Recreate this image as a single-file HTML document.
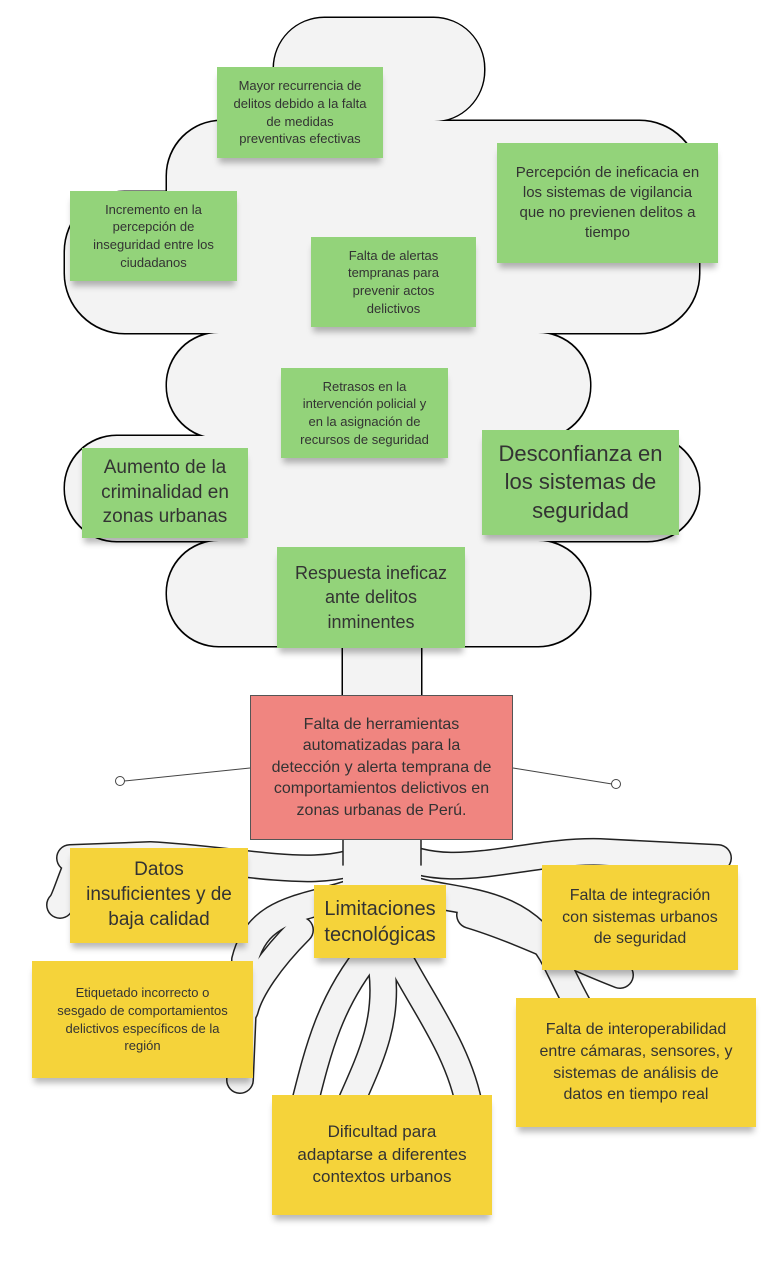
<!DOCTYPE html>
<html><head><meta charset="utf-8"><style>
body{margin:0;width:783px;height:1276px;background:#fff;position:relative;overflow:hidden;font-family:"Liberation Sans","DejaVu Sans",sans-serif;}
svg{position:absolute;left:0;top:0}
.n{position:absolute;display:flex;align-items:center;justify-content:center;text-align:center;color:#333;box-shadow:0 7px 6px -2px rgba(0,0,0,0.28);box-sizing:border-box;padding:2px;line-height:1.35;white-space:nowrap}
.g{background:#93d37a}
.y{background:#f5d33a}
</style></head><body>
<svg width="783" height="1276">
<g fill="#000">
<rect x="272.5" y="16.5" width="213" height="106" rx="52"/>
<rect x="165.5" y="119.5" width="433" height="215" rx="56"/>
<rect x="63.5" y="190.5" width="303" height="144" rx="61"/>
<rect x="398.5" y="119.5" width="302" height="215" rx="61"/>
<rect x="165.5" y="331.5" width="426" height="108" rx="53"/>
<rect x="63.5" y="434.5" width="637" height="108" rx="53"/>
<rect x="165.5" y="539.5" width="426" height="108" rx="53"/>
<rect x="341.5" y="640" width="81" height="60"/>
</g>
<g fill="#f3f3f3">
<rect x="274" y="18" width="210" height="103" rx="50"/>
<rect x="167" y="121" width="430" height="212" rx="55"/>
<rect x="65" y="192" width="300" height="141" rx="60"/>
<rect x="400" y="121" width="299" height="212" rx="60"/>
<rect x="167" y="333" width="423" height="105" rx="52"/>
<rect x="65" y="436" width="634" height="105" rx="52"/>
<rect x="167" y="541" width="423" height="105" rx="52"/>
<rect x="343" y="630" width="78" height="70"/>
</g>
<g fill="none" stroke-linecap="round">
<g stroke="#222" stroke-width="28">
<path d="M380,850 C330,885 250,860 150,855 L70,858"/>
<path d="M80,858 C70,880 65,900 60,905"/>
<path d="M390,850 C450,885 520,850 600,852 L718,858"/>
<path d="M370,885 C320,910 260,900 245,960 L240,1080"/>
<path d="M300,930 C270,960 250,990 245,1010"/>
<path d="M400,885 C440,905 520,890 555,960 C580,1010 600,1060 665,1085"/>
<path d="M470,915 C520,930 580,960 620,975"/>
<path d="M372,950 C330,1000 318,1050 303,1110"/>
<path d="M395,950 C420,1000 460,1050 470,1110"/>
<path d="M382,970 C388,1020 372,1055 352,1100"/>
<rect x="358" y="830" width="48" height="50" fill="#222" stroke="none"/>
</g>
<g stroke="#f3f3f3" stroke-width="25">
<path d="M380,850 C330,885 250,860 150,855 L70,858"/>
<path d="M80,858 C70,880 65,900 60,905"/>
<path d="M390,850 C450,885 520,850 600,852 L718,858"/>
<path d="M370,885 C320,910 260,900 245,960 L240,1080"/>
<path d="M300,930 C270,960 250,990 245,1010"/>
<path d="M400,885 C440,905 520,890 555,960 C580,1010 600,1060 665,1085"/>
<path d="M470,915 C520,930 580,960 620,975"/>
<path d="M372,950 C330,1000 318,1050 303,1110"/>
<path d="M395,950 C420,1000 460,1050 470,1110"/>
<path d="M382,970 C388,1020 372,1055 352,1100"/>
</g>
<rect x="343" y="820" width="78" height="65" fill="#f3f3f3" stroke="none"/>
<path d="M343,830 L343,865 M421,830 L421,865" stroke="#222" stroke-width="1.5"/>
</g>
<g stroke="#444" stroke-width="1" fill="#fff">
<line x1="250" y1="768" x2="124" y2="781"/>
<line x1="513" y1="768" x2="612" y2="784"/>
<circle cx="120" cy="781" r="4.5"/>
<circle cx="616" cy="784" r="4.5"/>
</g>
</svg>

<div class="n g" style="left:217px;top:67px;width:166px;height:91px;font-size:13px">Mayor recurrencia de<br>delitos debido a la falta<br>de medidas<br>preventivas efectivas</div>
<div class="n g" style="left:70px;top:191px;width:167px;height:90px;font-size:13px">Incremento en la<br>percepción de<br>inseguridad entre los<br>ciudadanos</div>
<div class="n g" style="left:497px;top:143px;width:221px;height:120px;font-size:15px">Percepción de ineficacia en<br>los sistemas de vigilancia<br>que no previenen delitos a<br>tiempo</div>
<div class="n g" style="left:311px;top:237px;width:165px;height:90px;font-size:13px">Falta de alertas<br>tempranas para<br>prevenir actos<br>delictivos</div>
<div class="n g" style="left:281px;top:368px;width:167px;height:90px;font-size:13px">Retrasos en la<br>intervención policial y<br>en la asignación de<br>recursos de seguridad</div>
<div class="n g" style="left:82px;top:448px;width:166px;height:90px;font-size:19px;line-height:1.3">Aumento de la<br>criminalidad en<br>zonas urbanas</div>
<div class="n g" style="left:482px;top:430px;width:197px;height:105px;font-size:22px;line-height:1.3">Desconfianza en<br>los sistemas de<br>seguridad</div>
<div class="n g" style="left:277px;top:547px;width:188px;height:101px;font-size:18px">Respuesta ineficaz<br>ante delitos<br>inminentes</div>
<div class="n" style="left:250px;top:695px;width:263px;height:145px;font-size:16px;background:#f08580;border:1px solid #555;box-shadow:none">Falta de herramientas<br>automatizadas para la<br>detección y alerta temprana de<br>comportamientos delictivos en<br>zonas urbanas de Perú.</div>
<div class="n y" style="left:70px;top:848px;width:178px;height:95px;font-size:19px;line-height:1.3">Datos<br>insuficientes y de<br>baja calidad</div>
<div class="n y" style="left:314px;top:885px;width:132px;height:73px;font-size:20px;line-height:1.3">Limitaciones<br>tecnológicas</div>
<div class="n y" style="left:542px;top:865px;width:196px;height:105px;font-size:16px">Falta de integración<br>con sistemas urbanos<br>de seguridad</div>
<div class="n y" style="left:32px;top:961px;width:221px;height:117px;font-size:13px">Etiquetado incorrecto o<br>sesgado de comportamientos<br>delictivos específicos de la<br>región</div>
<div class="n y" style="left:516px;top:998px;width:240px;height:129px;font-size:16px">Falta de interoperabilidad<br>entre cámaras, sensores, y<br>sistemas de análisis de<br>datos en tiempo real</div>
<div class="n y" style="left:272px;top:1095px;width:220px;height:120px;font-size:17px">Dificultad para<br>adaptarse a diferentes<br>contextos urbanos</div>
</body></html>
